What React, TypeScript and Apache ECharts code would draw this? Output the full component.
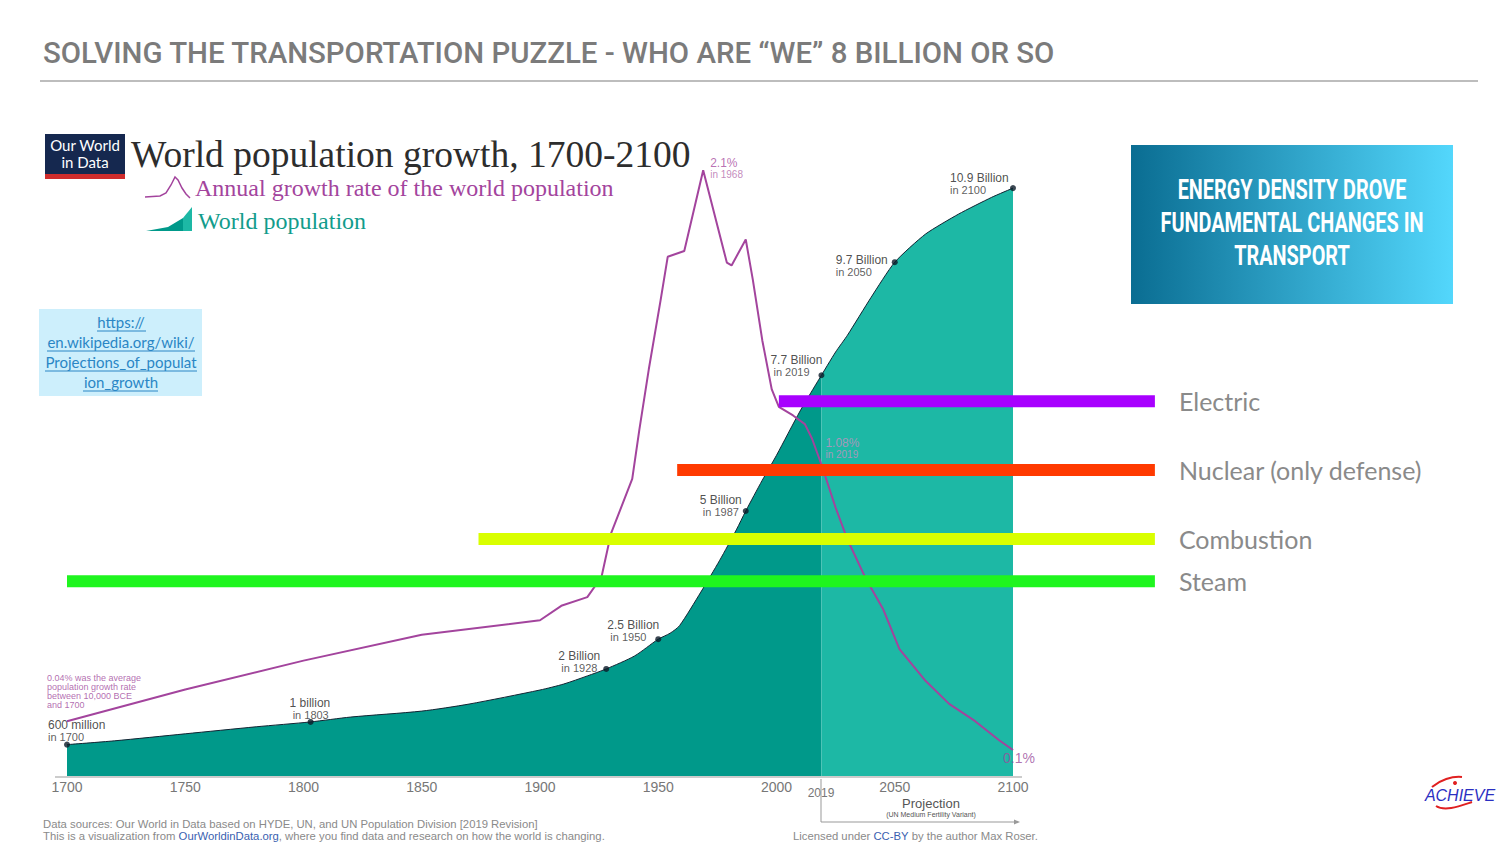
import React, { useEffect, useRef } from 'react';
import * as echarts from 'echarts';

// ---------- DATA ----------
const histYears = [1700, 1720, 1750, 1780, 1803, 1820, 1850, 1870, 1900, 1910, 1920, 1928, 1940, 1950, 1955, 1959, 1968, 1976, 1983, 1987, 1994, 2000, 2010, 2019];
const histPop = [0.58, 0.65, 0.78, 0.91, 1.0, 1.09, 1.2, 1.33, 1.59, 1.7, 1.85, 1.98, 2.22, 2.53, 2.64, 2.78, 3.4, 3.99, 4.55, 4.9, 5.47, 5.93, 6.75, 7.41];

const projYears = [2019, 2025, 2030, 2040, 2050, 2063, 2077, 2091, 2100];
const projPop = [7.41, 7.84, 8.15, 8.85, 9.5, 10.02, 10.39, 10.7, 10.87];

const rateYears = [1700, 1750, 1800, 1850, 1900, 1909, 1920, 1926, 1930, 1939, 1942, 1946, 1951, 1954, 1961, 1969, 1979, 1981, 1987, 1990, 1994, 1998, 2001, 2007, 2012, 2015, 2019, 2025, 2030, 2038, 2045, 2052, 2063, 2073, 2084, 2094, 2100];
const rates = [0.19, 0.3, 0.4, 0.49, 0.54, 0.59, 0.62, 0.69, 0.84, 1.03, 1.2, 1.41, 1.65, 1.8, 1.82, 2.1, 1.78, 1.77, 1.86, 1.72, 1.51, 1.34, 1.28, 1.25, 1.22, 1.17, 1.08, 0.93, 0.82, 0.68, 0.58, 0.44, 0.33, 0.25, 0.19, 0.125, 0.09];

const milestoneYears = [1700, 1803, 1928, 1950, 1987, 2019, 2050, 2100];
const milestonePop = [0.58, 1.0, 1.98, 2.53, 4.9, 7.41, 9.5, 10.87];
const milestoneTitles = ['600 million', '1 billion', '2 Billion', '2.5 Billion', '5 Billion', '7.7 Billion', '9.7 Billion', '10.9 Billion'];
const milestoneSubs = ['in 1700', 'in 1803', 'in 1928', 'in 1950', 'in 1987', 'in 2019', 'in 2050', 'in 2100'];

const rateNoteYears = [1700, 1969, 2019, 2100];
const rateNoteValues = [0.19, 2.1, 1.08, 0.09];
const rateNoteTexts = [
  '0.04% was the average\npopulation growth rate\nbetween 10,000 BCE\nand 1700',
  '2.1%\nin 1968',
  '1.08%\nin 2019',
  '0.1%',
];

const energyNames = ['Electric', 'Nuclear (only defense)', 'Combustion', 'Steam'];
const energyStart = [2001, 1958, 1874, 1700];
const energyEnd = [2160, 2160, 2160, 2160];
const energyLevel = [6.93, 5.66, 4.38, 3.6];

const xTickMin = 1700;
const xTickMax = 2100;
const xTickStep = 50;

// ---------- STYLE / LAYOUT ----------
const sans = '"Liberation Sans", Arial, sans-serif';
const serif = '"Liberation Serif", "Times New Roman", serif';
const lato = 'Lato, "Open Sans", sans-serif';
const energyColors = ['#a800ff', '#ff3a00', '#d9ff00', '#1ff51f'];
const milestoneLabelPos = [[-16, -23], [-18, -22], [-45, -16], [-48, -17], [-43, -14], [-48, -18], [-56, -5], [-60, -13]];
const milestoneIndent = [false, true, true, true, true, true, false, false];
const rateNotePos = [[-19, -47], [8, -12], [5, -26], [-9, 2]];

export default function App() {
  const ref = useRef<HTMLDivElement>(null);
  useEffect(() => {
    document.body.style.margin = '0';
    const chart = echarts.init(ref.current!, null, { renderer: 'svg' });

    const rateNoteLabels = [
      { fontSize: 9, lineHeight: 9, color: '#a0489c' },
      { rich: { a: { fontSize: 12, lineHeight: 12, color: '#a74ca0', fontFamily: sans }, b: { fontSize: 10, lineHeight: 11, color: '#b46cac', fontFamily: sans } } },
      { rich: { a: { fontSize: 12, lineHeight: 12, color: '#c98fc2', fontFamily: sans }, b: { fontSize: 10, lineHeight: 11, color: '#c98fc2', fontFamily: sans } } },
      { fontSize: 14, color: '#9c4e9c' },
    ];

    const option: any = {
      animation: false,
      backgroundColor: '#ffffff',
      grid: { left: 67, right: 489, top: 127, bottom: 74 },
      xAxis: {
        type: 'value',
        min: xTickMin,
        max: xTickMax,
        interval: xTickStep,
        axisLine: { show: false },
        axisTick: { show: false },
        splitLine: { show: false },
        axisLabel: { color: '#777', fontSize: 14, fontFamily: sans, margin: 4, formatter: (v: number) => String(v) },
      },
      yAxis: [
        { type: 'value', min: 0, max: 12, show: false },
        { type: 'value', min: 0, max: 2.25, show: false },
      ],
      series: [
        {
          type: 'line',
          name: 'World population',
          data: histYears.map((y, i) => [y, histPop[i]]),
          showSymbol: false,
          smooth: 0.25,
          lineStyle: { color: '#142433', width: 1 },
          areaStyle: { color: '#00998a', opacity: 1 },
          z: 1,
        },
        {
          type: 'line',
          name: 'Projection',
          data: projYears.map((y, i) => [y, projPop[i]]),
          showSymbol: false,
          smooth: 0.2,
          lineStyle: { color: '#142433', width: 1 },
          areaStyle: { color: '#1db8a5', opacity: 1 },
          z: 1,
        },
        {
          type: 'line',
          name: 'Annual growth rate of the world population',
          yAxisIndex: 1,
          data: rateYears.map((y, i) => [y, rates[i]]),
          showSymbol: false,
          lineStyle: { color: '#a3449d', width: 2 },
          z: 3,
        },
        {
          type: 'custom',
          name: 'Energy',
          clip: false,
          data: energyNames.map((n, i) => [energyStart[i], energyEnd[i], energyLevel[i]]),
          encode: { x: [0, 1], y: 2 },
          renderItem: (params: any, api: any) => {
            const s = api.coord([api.value(0), api.value(2)]);
            const e = api.coord([api.value(1), api.value(2)]);
            const h = 12;
            return {
              type: 'group',
              children: [
                { type: 'rect', shape: { x: s[0], y: s[1] - h / 2, width: e[0] - s[0], height: h }, style: { fill: energyColors[params.dataIndex] } },
                {
                  type: 'text',
                  x: e[0] + 24,
                  y: s[1],
                  style: { text: energyNames[params.dataIndex], fill: '#8a8a8a', fontSize: 25, fontFamily: lato, verticalAlign: 'middle', align: 'left' },
                },
              ],
            };
          },
          z: 4,
        },
        {
          type: 'scatter',
          name: 'Milestones',
          symbolSize: 6,
          itemStyle: { color: '#0b1a28' },
          z: 5,
          label: {
            show: true,
            rich: {
              a: { fontSize: 12, lineHeight: 12, color: '#222', fontFamily: sans },
              b: { fontSize: 11, lineHeight: 12, color: '#333', fontFamily: sans },
            },
          },
          data: milestoneYears.map((y, i) => ({
            value: [y, milestonePop[i]],
            label: {
              position: milestoneLabelPos[i],
              formatter: `{a|${milestoneTitles[i]}}\n{b|${milestoneIndent[i] ? ' ' : ''}${milestoneSubs[i]}}`,
            },
          })),
        },
        {
          type: 'scatter',
          name: 'Rate notes',
          yAxisIndex: 1,
          symbolSize: 2,
          itemStyle: { color: 'rgba(0,0,0,0)' },
          z: 5,
          data: rateNoteYears.map((y, i) => {
            const lines = rateNoteTexts[i].split('\n');
            const base: any = rateNoteLabels[i];
            const formatter = base.rich && lines.length === 2 ? `{a|${lines[0]}}\n{b|${lines[1]}}` : rateNoteTexts[i];
            return {
              value: [y, rateNoteValues[i]],
              label: { show: true, position: rateNotePos[i], fontFamily: sans, formatter, ...base },
            };
          }),
        },
      ],
      graphic: [
        // page title
        { type: 'text', x: 43, y: 53, scaleX: 1.015, style: { text: 'SOLVING THE TRANSPORTATION PUZZLE - WHO ARE “WE” 8 BILLION OR SO', fill: '#7b7b7b', fontSize: 29, fontWeight: 500, fontFamily: 'Roboto', verticalAlign: 'middle', align: 'left' } },
        { type: 'line', shape: { x1: 40, y1: 81, x2: 1478, y2: 81 }, style: { stroke: '#bdbdbd', lineWidth: 2 } },
        // OWID logo
        { type: 'rect', shape: { x: 45, y: 134, width: 80, height: 41 }, style: { fill: '#15284f' } },
        { type: 'rect', shape: { x: 45, y: 174, width: 80, height: 5 }, style: { fill: '#cf2c2c' } },
        { type: 'text', x: 85, y: 145, style: { text: 'Our World', fill: '#fff', fontSize: 15, fontFamily: lato, align: 'center', verticalAlign: 'middle' } },
        { type: 'text', x: 85, y: 162, style: { text: 'in Data', fill: '#fff', fontSize: 15, fontFamily: lato, align: 'center', verticalAlign: 'middle' } },
        // chart title
        { type: 'text', x: 131, y: 154, style: { text: 'World population growth, 1700-2100', fill: '#2d2d2d', fontSize: 37.5, fontFamily: serif, verticalAlign: 'middle', align: 'left' } },
        // legend
        { type: 'polyline', shape: { points: [[145, 197], [160, 196], [166, 193], [171, 185], [175, 177], [178, 180], [182, 188], [186, 194], [190, 198]] }, style: { stroke: '#a3449d', lineWidth: 1.5, fill: 'none' } },
        { type: 'text', x: 195, y: 188, style: { text: 'Annual growth rate of the world population', fill: '#a3449d', fontSize: 24, fontFamily: serif, verticalAlign: 'middle', align: 'left' } },
        { type: 'polygon', shape: { points: [[146, 231], [168, 227], [183, 218], [183, 231]] }, style: { fill: '#00998a' } },
        { type: 'polygon', shape: { points: [[183, 218], [192, 207], [192, 231], [183, 231]] }, style: { fill: '#1db8a5' } },
        { type: 'text', x: 198, y: 221, style: { text: 'World population', fill: '#129c8c', fontSize: 24, fontFamily: serif, verticalAlign: 'middle', align: 'left' } },
        // wikipedia box
        { type: 'rect', shape: { x: 39, y: 309, width: 163, height: 87 }, style: { fill: '#cdeffc' } },
        { type: 'text', x: 121, y: 322, style: { text: 'https://', fill: '#2a86c5', fontSize: 15, fontFamily: lato, align: 'center', verticalAlign: 'middle' } },
        { type: 'text', x: 121, y: 342, style: { text: 'en.wikipedia.org/wiki/', fill: '#2a86c5', fontSize: 15, fontFamily: lato, align: 'center', verticalAlign: 'middle' } },
        { type: 'text', x: 121, y: 362, style: { text: 'Projections_of_populat', fill: '#2a86c5', fontSize: 15, fontFamily: lato, align: 'center', verticalAlign: 'middle' } },
        { type: 'text', x: 121, y: 382, style: { text: 'ion_growth', fill: '#2a86c5', fontSize: 15, fontFamily: lato, align: 'center', verticalAlign: 'middle' } },
        { type: 'line', shape: { x1: 97, y1: 331, x2: 146, y2: 331 }, style: { stroke: '#2a86c5', lineWidth: 1 } },
        { type: 'line', shape: { x1: 47, y1: 351, x2: 195, y2: 351 }, style: { stroke: '#2a86c5', lineWidth: 1 } },
        { type: 'line', shape: { x1: 45, y1: 371, x2: 197, y2: 371 }, style: { stroke: '#2a86c5', lineWidth: 1 } },
        { type: 'line', shape: { x1: 83, y1: 391, x2: 158, y2: 391 }, style: { stroke: '#2a86c5', lineWidth: 1 } },
        // right box
        {
          type: 'rect',
          shape: { x: 1131, y: 145, width: 322, height: 159 },
          style: { fill: new echarts.graphic.LinearGradient(0, 0, 1, 0, [{ offset: 0, color: '#0a6d92' }, { offset: 1, color: '#53d7fc' }]) },
        },
        { type: 'text', x: 1292, y: 189, scaleX: 0.71, style: { text: 'ENERGY DENSITY DROVE', fill: '#fff', fontSize: 28, fontWeight: 'bold', fontFamily: 'Roboto', align: 'center', verticalAlign: 'middle' } },
        { type: 'text', x: 1292, y: 222, scaleX: 0.71, style: { text: 'FUNDAMENTAL CHANGES IN', fill: '#fff', fontSize: 28, fontWeight: 'bold', fontFamily: 'Roboto', align: 'center', verticalAlign: 'middle' } },
        { type: 'text', x: 1292, y: 255, scaleX: 0.71, style: { text: 'TRANSPORT', fill: '#fff', fontSize: 28, fontWeight: 'bold', fontFamily: 'Roboto', align: 'center', verticalAlign: 'middle' } },
        // axis line
        { type: 'line', shape: { x1: 55, y1: 777, x2: 1022, y2: 777 }, style: { stroke: '#cccccc', lineWidth: 2 } },
        // projection marker
        { type: 'polyline', shape: { points: [[821, 779], [821, 822], [1014, 822]] }, style: { stroke: '#999', lineWidth: 1, fill: 'none' } },
        { type: 'polygon', shape: { points: [[1014, 819.5], [1020, 822], [1014, 824.5]] }, style: { fill: '#999' } },
        { type: 'text', x: 821, y: 793, style: { text: '2019', fill: '#777', fontSize: 12, fontFamily: sans, align: 'center', verticalAlign: 'middle' } },
        { type: 'text', x: 931, y: 803, style: { text: 'Projection', fill: '#555', fontSize: 13, fontFamily: sans, align: 'center', verticalAlign: 'middle' } },
        { type: 'text', x: 931, y: 814, style: { text: '(UN Medium Fertility Variant)', fill: '#555', fontSize: 7, fontFamily: sans, align: 'center', verticalAlign: 'middle' } },
        // sources
        { type: 'text', x: 43, y: 824, style: { text: 'Data sources: Our World in Data based on HYDE, UN, and UN Population Division [2019 Revision]', fill: '#8a8a8a', fontSize: 11.3, fontFamily: sans, verticalAlign: 'middle', align: 'left' } },
        {
          type: 'text', x: 43, y: 836,
          style: {
            text: '{g|This is a visualization from }{l|OurWorldinData.org}{g|, where you find data and research on how the world is changing.}',
            rich: { g: { fill: '#8a8a8a', fontSize: 11.3, fontFamily: sans }, l: { fill: '#3a5fb0', fontSize: 11.3, fontFamily: sans } },
            verticalAlign: 'middle', align: 'left',
          },
        },
        {
          type: 'text', x: 793, y: 836,
          style: {
            text: '{g|Licensed under }{l|CC-BY}{g| by the author Max Roser.}',
            rich: { g: { fill: '#8a8a8a', fontSize: 11.3, fontFamily: sans }, l: { fill: '#3a5fb0', fontSize: 11.3, fontFamily: sans } },
            verticalAlign: 'middle', align: 'left',
          },
        },
        // Achieve logo
        { type: 'bezierCurve', shape: { x1: 1432, y1: 787, x2: 1462, y2: 777, cpx1: 1440, cpy1: 780, cpx2: 1452, cpy2: 776 }, style: { stroke: '#e02020', lineWidth: 2, fill: 'none' } },
        { type: 'circle', shape: { cx: 1455, cy: 783, r: 2 }, style: { fill: '#e02020' } },
        { type: 'bezierCurve', shape: { x1: 1436, y1: 806, x2: 1472, y2: 802, cpx1: 1445, cpy1: 812, cpx2: 1460, cpy2: 806 }, style: { stroke: '#e02020', lineWidth: 2, fill: 'none' } },
        { type: 'text', x: 1460, y: 795, style: { text: 'ACHIEVE', fill: '#2b2fc2', fontSize: 16, fontStyle: 'italic', fontFamily: sans, align: 'center', verticalAlign: 'middle' } },
      ],
    };
    chart.setOption(option);
    return () => chart.dispose();
  }, []);
  return <div ref={ref} style={{ position: 'absolute', left: 0, top: 0, width: 1502, height: 850, background: '#fff' }} />;
}
